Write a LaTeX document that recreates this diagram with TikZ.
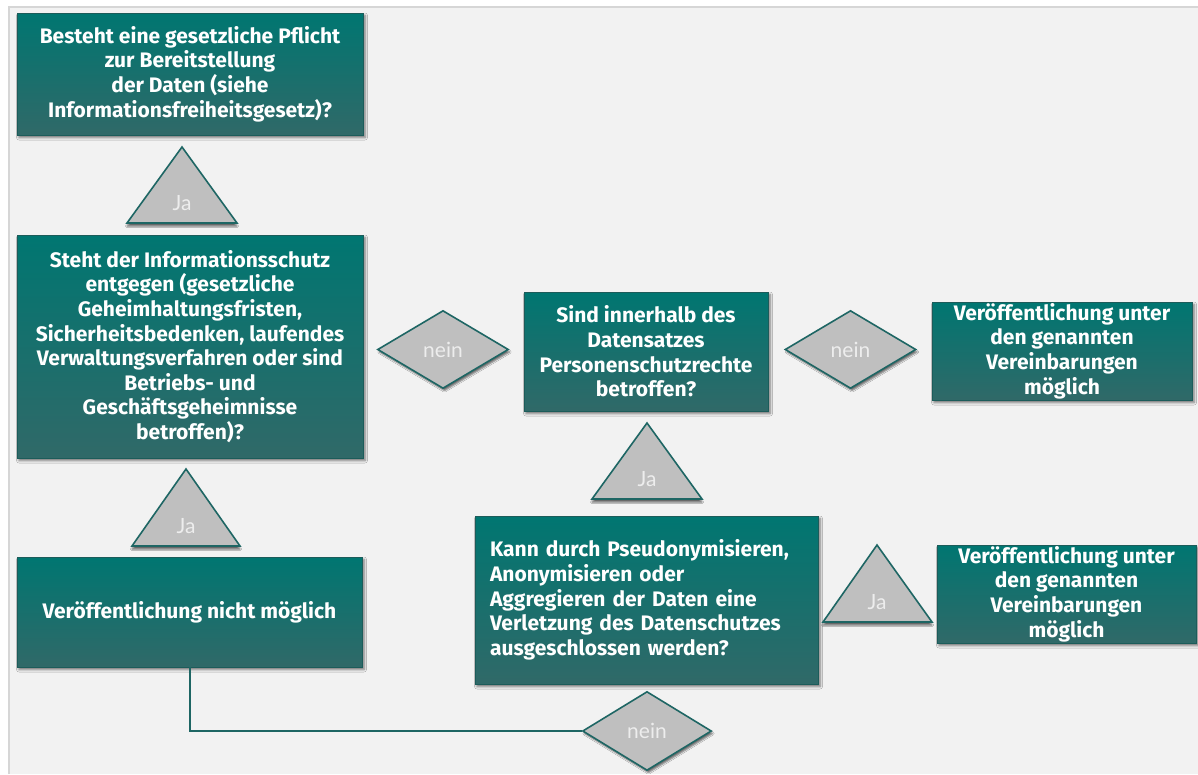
\documentclass[tikz,border=0pt]{standalone}
\usepackage{fontspec}
\setmainfont{Fira Sans}
\newfontfamily\lblfont{Lato}
\usetikzlibrary{shapes.geometric,shadows,shadows.blur}
\definecolor{bgc}{HTML}{F2F2F2}
\definecolor{framec}{HTML}{D6D6D6}
\definecolor{boxtop}{HTML}{007671}
\definecolor{boxbot}{HTML}{306968}
\definecolor{boxline}{HTML}{1C5C5A}
\definecolor{linec}{HTML}{1E6664}
\definecolor{grayfill}{HTML}{BFBFBF}
\definecolor{lblc}{HTML}{EDEDED}
\tikzset{
  flowbox/.style={draw=boxline, line width=0.8pt, top color=boxtop, bottom color=boxbot,
    text=white, align=center, inner sep=0pt,
    font=\bfseries\fontsize{21}{24.6}\selectfont,
    blur shadow={shadow xshift=2pt, shadow yshift=-2.5pt, shadow blur radius=2.5pt, shadow opacity=55}},
  tri/.style={draw=linec, line width=1.6pt, fill=grayfill, line join=miter,
    blur shadow={shadow xshift=0pt, shadow yshift=-3pt, shadow blur radius=1.5pt, shadow opacity=60}},
  decision/.style={diamond, draw=linec, line width=1.6pt, fill=grayfill, inner sep=0pt,
    blur shadow={shadow xshift=1.5pt, shadow yshift=-2.5pt, shadow blur radius=1.5pt, shadow opacity=55}},
  lbl/.style={text=lblc, font=\lblfont\fontsize{21}{22}\selectfont, inner sep=0pt},
  conn/.style={draw=linec, line width=2.6pt}
}
\begin{document}
\begin{tikzpicture}[x=1pt,y=-1pt]
\useasboundingbox (0,0) rectangle (1198,774);
\fill[white] (0,0) rectangle (1198,774);
\fill[bgc] (9,7) rectangle (1198,774);
\draw[framec, line width=1.2pt] (9,774) -- (9,7) -- (1198,7);

% boxes
\node[flowbox, minimum width=346pt, minimum height=122pt] (a) at (190,74)
  {Besteht eine gesetzliche Pflicht\\zur Bereitstellung\\der Daten (siehe\\Informationsfreiheitsgesetz)?};
\node[flowbox, minimum width=346pt, minimum height=223pt] (b) at (190,346.5)
  {Steht der Informationsschutz\\entgegen (gesetzliche\\Geheimhaltungsfristen,\\Sicherheitsbedenken, laufendes\\Verwaltungsverfahren oder sind\\Betriebs- und\\Geschäftsgeheimnisse\\betroffen)?};
\node[flowbox, minimum width=345pt, minimum height=110pt] (c) at (189.5,612)
  {Veröffentlichung nicht möglich};
\node[flowbox, minimum width=244pt, minimum height=119pt] (d) at (646,351.5)
  {Sind innerhalb des\\Datensatzes\\Personenschutzrechte\\betroffen?};
\node[flowbox, minimum width=260pt, minimum height=98pt] (e) at (1062,351)
  {Veröffentlichung unter\\den genannten\\Vereinbarungen\\möglich};
\node[flowbox, minimum width=343pt, minimum height=168pt, text width=313pt, align=left] (f) at (646.5,600)
  {Kann durch Pseudonymisieren,\\Anonymisieren oder\\Aggregieren der Daten eine\\Verletzung des Datenschutzes\\ausgeschlossen werden?};
\node[flowbox, minimum width=259pt, minimum height=98pt] (g) at (1066.5,594)
  {Veröffentlichung unter\\den genannten\\Vereinbarungen\\möglich};

% connector
\coordinate (cbot) at (190,667);
\node[decision, minimum width=129pt, minimum height=79pt] (n3) at (647,731) {};
\draw[conn] (cbot) |- (n3.west);
\node[lbl] at (n3.center) {nein};

% decisions
\node[decision, minimum width=131pt, minimum height=78pt] (n1) at (443,349.5) {};
\node[lbl] at (n1.center) {nein};
\node[decision, minimum width=131pt, minimum height=78pt] (n2) at (850.5,349.5) {};
\node[lbl] at (n2.center) {nein};

% triangles
\path[tri] (127,223) -- (237,223) -- (182,147) -- cycle;
\node[lbl] (j1) at (182,203) {Ja};
\path[tri] (132,546) -- (240,546) -- (186,469) -- cycle;
\node[lbl] (j2) at (186,526) {Ja};
\path[tri] (592,499) -- (702,499) -- (647,423) -- cycle;
\node[lbl] (j3) at (647,479) {Ja};
\path[tri] (823,622) -- (932,622) -- (877,545) -- cycle;
\node[lbl] (j4) at (877,602) {Ja};
\end{tikzpicture}
\end{document}
